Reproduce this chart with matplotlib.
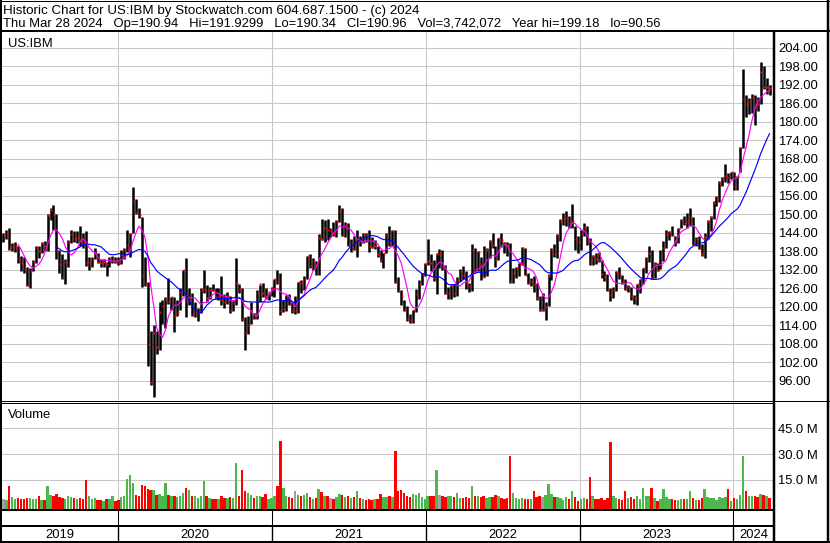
import matplotlib
matplotlib.use('Agg')
import matplotlib.pyplot as plt
import matplotlib.dates as mdates
from matplotlib.lines import Line2D
import numpy as np
import pandas as pd

plt.rcParams['font.family'] = ['Liberation Sans', 'DejaVu Sans']

# ---------------- data (weekly) ----------------
week_start = pd.date_range('2019-04-01', '2024-03-25', freq='W-MON')

high = [
    # 2019 (Apr - Dec)
    144.0, 144.8, 145.4, 140.6, 141.0, 139.7, 136.5, 136.0, 133.0, 132.6,
    135.0, 139.5, 139.6, 141.0, 141.2, 150.0, 152.0, 152.9, 150.0, 138.5,
    137.0, 135.5, 141.5, 145.0, 144.5, 144.5, 146.0, 144.0, 144.5, 136.0,
    136.0, 139.0, 137.5, 135.5, 135.5, 134.5, 136.0, 136.5, 136.0, 136.0,
    # 2020
    138.5, 139.0, 145.0, 144.0, 158.7, 155.0, 152.0, 149.0, 136.0, 128.0,
    112.0, 114.0, 112.0, 121.5, 122.3, 123.0, 129.3, 123.0, 123.0, 122.0,
    126.0, 132.0, 135.9, 126.0, 124.5, 121.5, 119.5, 126.0, 132.0, 127.0,
    126.5, 127.5, 126.0, 126.0, 130.0, 124.0, 124.6, 123.5, 122.0, 135.9,
    127.5, 126.0, 116.5, 117.0, 121.5, 118.0, 125.5, 127.0, 127.6, 126.0,
    124.5, 126.5,
    # 2021
    129.0, 131.9, 131.0, 122.0, 123.7, 124.0, 121.5, 123.5, 128.0, 128.7,
    130.0, 136.5, 137.0, 135.7, 134.9, 143.5, 148.5, 148.0, 148.5, 145.5,
    147.5, 148.0, 152.8, 152.0, 147.5, 147.0, 142.0, 143.0, 145.0, 143.0,
    144.0, 144.0, 144.8, 142.5, 141.5, 139.6, 138.5, 137.5, 143.9, 146.1,
    144.8, 145.0, 129.5, 125.5, 122.0, 120.3, 117.5, 118.9, 125.6, 128.5,
    131.0, 134.0,
    # 2022
    142.0, 137.0, 135.0, 137.3, 138.8, 138.3, 133.5, 126.5, 127.0, 127.5,
    129.5, 132.1, 133.1, 131.5, 127.8, 140.2, 138.9, 138.0, 136.0, 139.8,
    139.1, 141.5, 144.0, 139.5, 142.3, 144.0, 141.0, 141.0, 140.5, 132.5,
    133.0, 134.1, 139.3, 139.0, 131.0, 129.3, 130.0, 127.7, 123.5, 124.5,
    121.5, 130.5, 138.9, 140.2, 143.6, 148.5, 150.5, 151.0, 149.3, 153.2,
    146.0, 143.0,
    # 2023
    145.0, 147.2, 146.0, 142.3, 136.7, 137.4, 137.8, 135.0, 131.5, 130.5,
    126.0, 126.3, 131.5, 133.0, 130.2, 129.0, 127.0, 126.3, 123.9, 127.5,
    129.0, 132.6, 136.0, 139.5, 138.4, 134.5, 134.0, 138.4, 141.3, 144.7,
    144.4, 146.0, 143.0, 145.5, 148.5, 149.3, 150.2, 151.9, 149.0, 142.5,
    142.9, 140.3, 143.8, 148.0, 149.4, 154.2, 155.8, 160.6, 162.0, 166.3,
    163.2, 163.6,
    # 2024 (Jan - Mar)
    163.5, 162.5, 171.6, 196.9, 188.5, 187.6, 188.9, 188.5, 188.0, 199.18,
    198.0, 194.0, 192.0,
]

low = [
    # 2019
    141.0, 142.0, 138.5, 138.0, 137.7, 134.0, 131.5, 131.0, 126.8, 126.1,
    131.5, 134.0, 135.8, 137.5, 138.0, 138.0, 148.0, 145.0, 135.5, 131.0,
    129.0, 127.5, 133.0, 140.5, 141.0, 140.5, 139.5, 139.0, 133.3, 131.8,
    132.7, 135.5, 134.0, 133.0, 133.0, 130.0, 133.0, 134.0, 134.0, 133.5,
    # 2020
    133.9, 135.5, 137.8, 136.0, 144.0, 150.0, 148.8, 126.5, 126.6, 100.8,
    94.7, 90.56, 104.5, 106.0, 114.5, 113.0, 121.0, 118.8, 111.8, 117.0,
    119.0, 123.5, 116.5, 120.5, 117.0, 116.7, 115.5, 118.0, 124.5, 121.5,
    122.5, 125.0, 122.5, 122.2, 120.5, 119.5, 120.7, 117.8, 118.5, 120.5,
    124.5, 115.5, 105.9, 111.0, 114.5, 115.9, 116.0, 121.5, 123.2, 122.5,
    122.3, 123.3,
    # 2021
    123.1, 127.5, 117.4, 118.3, 118.5, 120.5, 118.0, 117.5, 118.0, 124.3,
    125.5, 129.0, 132.5, 132.0, 130.4, 130.4, 141.5, 141.0, 141.5, 142.5,
    142.8, 142.5, 147.5, 143.0, 142.6, 139.5, 137.6, 138.5, 136.2, 139.5,
    140.5, 140.8, 137.8, 139.1, 138.8, 136.2, 134.5, 132.6, 137.5, 139.8,
    139.8, 127.6, 124.9, 120.5, 118.6, 115.5, 114.6, 114.6, 118.3, 122.5,
    126.9, 130.0,
    # 2022
    133.5, 131.5, 128.3, 124.2, 132.5, 131.9, 124.2, 122.5, 122.5, 123.2,
    123.5, 128.2, 128.9, 125.6, 124.9, 125.2, 131.2, 131.5, 128.6, 129.5,
    130.0, 135.8, 139.0, 132.8, 135.0, 139.4, 137.5, 136.5, 127.6, 127.7,
    129.4, 129.8, 133.5, 130.2, 127.2, 126.6, 124.6, 122.0, 118.6, 118.7,
    115.55, 120.3, 128.6, 136.0, 135.9, 141.3, 146.6, 146.2, 145.5, 145.6,
    138.5, 137.5,
    # 2023
    138.5, 142.9, 139.9, 133.6, 133.5, 133.7, 134.5, 129.2, 128.3, 125.0,
    121.7, 122.8, 125.0, 128.9, 127.3, 125.5, 124.6, 122.3, 120.9, 120.55,
    124.5, 127.5, 131.0, 134.5, 129.0, 129.2, 131.6, 132.3, 134.9, 138.9,
    141.7, 142.8, 139.6, 140.5, 145.6, 146.5, 145.4, 146.0, 140.0, 139.6,
    138.6, 136.5, 135.9, 142.0, 144.6, 148.5, 152.5, 153.8, 159.0, 160.5,
    160.0, 161.3,
    # 2024
    157.9, 157.9, 163.5, 171.5, 181.5, 182.5, 182.7, 179.0, 183.5, 185.8,
    190.5, 189.0, 188.6,
]

close = [
    # 2019
    143.3, 144.0, 139.1, 139.4, 139.7, 135.3, 134.0, 132.3, 127.0, 131.5,
    134.6, 138.9, 137.9, 140.6, 139.5, 149.7, 151.4, 150.0, 138.0, 133.8,
    129.6, 134.5, 141.0, 143.7, 141.9, 142.3, 142.0, 141.1, 134.1, 134.5,
    135.5, 137.6, 134.5, 134.3, 134.5, 133.8, 135.5, 135.6, 134.9, 134.3,
    # 2020
    136.7, 138.3, 140.0, 143.7, 154.3, 150.7, 149.8, 130.2, 127.2, 107.9,
    95.5, 111.5, 106.8, 118.3, 120.1, 122.5, 121.9, 123.0, 116.9, 118.4,
    124.9, 132.0, 121.9, 123.0, 117.3, 118.2, 118.4, 125.5, 125.6, 122.9,
    125.4, 125.3, 123.2, 123.3, 122.3, 121.4, 123.3, 118.9, 121.1, 127.8,
    125.9, 116.0, 111.6, 114.0, 117.8, 117.6, 124.4, 127.2, 124.3, 123.3,
    124.7, 125.9,
    # 2021
    129.0, 127.9, 118.6, 119.1, 123.6, 120.8, 118.9, 118.9, 127.9, 127.6,
    128.9, 136.4, 133.2, 134.7, 133.6, 142.4, 141.9, 145.5, 144.7, 144.7,
    143.7, 147.4, 150.9, 143.1, 146.8, 140.0, 140.7, 138.9, 141.3, 141.0,
    143.5, 143.1, 139.6, 139.4, 139.6, 137.0, 135.2, 137.5, 143.3, 140.5,
    144.6, 127.9, 125.1, 123.6, 119.0, 116.1, 115.8, 118.8, 124.1, 127.4,
    130.6, 133.7,
    # 2022
    134.8, 134.2, 129.3, 137.2, 137.2, 132.7, 124.4, 124.5, 126.6, 124.4,
    128.8, 131.4, 130.1, 127.7, 126.6, 138.3, 132.2, 137.7, 133.6, 129.7,
    138.3, 141.2, 139.9, 135.0, 142.1, 141.6, 140.5, 139.9, 128.3, 130.8,
    132.5, 134.0, 139.1, 130.4, 127.7, 128.4, 127.3, 122.7, 118.8, 118.8,
    120.0, 129.9, 138.5, 137.0, 143.2, 147.7, 148.4, 148.7, 147.1, 147.8,
    142.0, 140.9,
    # 2023
    143.7, 145.9, 141.2, 134.4, 136.4, 135.6, 135.0, 130.6, 129.6, 125.5,
    123.7, 125.3, 131.1, 130.5, 128.1, 125.7, 126.4, 123.6, 122.8, 127.3,
    128.9, 132.4, 135.3, 137.5, 129.4, 133.8, 132.0, 133.4, 138.9, 143.5,
    144.2, 143.1, 141.4, 145.3, 148.0, 147.1, 147.4, 148.9, 140.3, 142.0,
    138.9, 137.2, 142.5, 147.9, 149.0, 153.6, 155.2, 160.1, 161.4, 162.2,
    162.1, 163.5,
    # 2024
    159.2, 162.2, 171.5, 187.4, 185.8, 186.3, 187.6, 185.7, 185.6, 196.0,
    191.1, 191.3, 190.96,
]

volume_m = [
    # 2019
    4.0, 3.6, 11.5, 5.0, 4.2, 4.5, 4.0, 3.8, 4.3, 4.8,
    3.9, 4.1, 5.5, 3.2, 3.6, 11.5, 6.5, 5.5, 7.0, 5.2,
    4.6, 4.2, 5.8, 5.0, 4.3, 3.8, 4.5, 3.9, 15.0, 6.0,
    4.2, 4.5, 3.6, 3.4, 3.0, 4.2, 3.8, 6.0, 2.8, 3.5,
    # 2020
    5.2, 6.0, 15.6, 18.0, 13.3, 6.5, 5.5, 12.0, 11.5, 10.0,
    9.2, 9.0, 6.3, 7.0, 6.0, 13.0, 6.5, 5.5, 5.8, 5.0,
    6.0, 7.5, 10.4, 9.2, 6.0, 5.5, 4.5, 6.0, 14.4, 5.5,
    4.5, 4.0, 3.8, 4.2, 5.6, 4.8, 4.3, 5.0, 4.5, 24.9,
    5.5, 20.8, 8.8, 7.5, 6.5, 4.8, 5.5, 5.8, 5.0, 6.6,
    4.0, 4.5,
    # 2021
    5.5, 11.5, 37.8, 10.6, 6.0, 5.0, 4.5, 8.4, 6.5, 5.5,
    6.5, 7.5, 5.0, 4.0, 4.5, 9.5, 8.0, 6.0, 5.5, 4.5,
    4.0, 5.0, 7.0, 6.5, 5.0, 5.5, 4.5, 5.0, 8.5, 4.5,
    4.0, 3.5, 4.2, 3.5, 3.8, 4.0, 7.0, 5.0, 5.0, 5.5,
    5.0, 31.8, 8.5, 9.0, 7.5, 6.0, 5.0, 7.0, 6.5, 7.5,
    5.0, 4.0,
    # 2022
    6.0, 5.5, 6.0, 20.8, 6.5, 5.5, 5.0, 6.0, 5.5, 5.0,
    7.5, 4.5, 4.5, 5.0, 4.5, 11.5, 6.0, 5.5, 5.0, 5.5,
    4.5, 5.0, 5.0, 6.5, 6.0, 4.5, 4.0, 4.5, 29.0, 7.5,
    4.5, 4.0, 4.5, 4.0, 3.8, 4.0, 8.6, 5.0, 5.5, 5.0,
    6.5, 12.7, 7.0, 5.0, 5.0, 4.5, 3.5, 5.0, 4.0, 8.6,
    5.0, 3.0,
    # 2023
    4.0, 4.5, 4.0, 16.6, 5.5, 4.0, 3.8, 4.5, 3.5, 4.5,
    37.2, 5.5, 4.5, 4.0, 3.5, 8.6, 4.5, 5.0, 4.0, 6.0,
    4.0, 10.4, 5.5, 6.0, 10.2, 4.5, 3.0, 4.0, 9.8, 5.0,
    4.0, 3.8, 3.5, 3.5, 4.0, 3.8, 4.2, 8.8, 4.5, 3.5,
    3.5, 4.5, 10.0, 5.0, 4.5, 4.8, 3.5, 5.0, 4.5, 5.0,
    9.8, 3.0,
    # 2024
    4.5, 4.0, 6.5, 28.9, 8.6, 5.5, 5.5, 6.0, 5.0, 7.0,
    6.5, 5.5, 4.5,
]

price_ticks = [96, 102, 108, 114, 120, 126, 132, 138, 144, 150, 156, 162,
               168, 174, 180, 186, 192, 198, 204]
volume_ticks = [15, 30, 45]
year_labels = [2019, 2020, 2021, 2022, 2023, 2024]

header_1 = "Historic Chart for US:IBM by Stockwatch.com 604.687.1500 - (c) 2024"
header_2 = ("Thu Mar 28 2024   Op=190.94   Hi=191.9299   Lo=190.34   Cl=190.96   "
            "Vol=3,742,072   Year hi=199.18   lo=90.56")

# ---------------- layout helpers ----------------
W, H = 830, 543
fig = plt.figure(figsize=(W / 100, H / 100), dpi=100)
fig.patch.set_facecolor('white')


def rect(l, t, r, b):
    return [l / W, (H - b) / H, (r - l) / W, (b - t) / H]


def fline(x0, y0, x1, y1, lw_px, color='black'):
    fig.add_artist(Line2D([x0 / W, x1 / W], [1 - y0 / H, 1 - y1 / H],
                          transform=fig.transFigure, color=color,
                          lw=lw_px * 0.72, solid_capstyle='butt'))


FS = 9.4
GRID = '#c8c8c8'

centers = mdates.date2num(week_start + pd.Timedelta(days=2))
jan2020 = mdates.date2num(pd.Timestamp('2020-01-01'))
ppd = 615.0 / 1461.0          # pixels per day
xmin = jan2020 - (118.3 - 1) / ppd
xmax = jan2020 + (774 - 118.3) / ppd
year_bounds = [mdates.date2num(pd.Timestamp(f'{y}-01-01')) for y in range(2020, 2025)]

close_s = pd.Series(close)
ma_short = close_s.rolling(6).mean()
ma_long = close_s.rolling(19).mean()

# ---------------- price panel ----------------
ax_p = fig.add_axes(rect(1, 31, 774, 400))
ax_p.set_xlim(xmin, xmax)
ax_p.set_ylim(96 - 19.3 / 3.085, 204 + 16.5 / 3.085)
ax_p.set_yticks(price_ticks)
ax_p.set_yticklabels([f'{v:.2f}' for v in price_ticks])
ax_p.yaxis.tick_right()
ax_p.tick_params(axis='y', length=0, pad=3, labelsize=FS, colors='black')
ax_p.tick_params(axis='x', length=0, labelbottom=False)
ax_p.grid(axis='y', color=GRID, lw=0.75)
for xb in year_bounds:
    ax_p.axvline(xb, color=GRID, lw=0.75, zorder=0.5)
for s in ax_p.spines.values():
    s.set_visible(False)
ax_p.set_axisbelow(True)

ax_p.vlines(centers, low, high, color='black', lw=1.8, zorder=2)
ax_p.plot(centers + 1.8, close, 's', ms=1.4, mew=0, color='red', zorder=3)
ax_p.plot(centers, ma_short, color='#ff00ff', lw=0.85, zorder=4)
ax_p.plot(centers, ma_long, color='#0000ff', lw=0.85, zorder=4)

# ---------------- volume panel ----------------
vmin = 15 - 29 / 1.7233
vmax = 45 + 26.3 / 1.7233
ax_v = fig.add_axes(rect(1, 402, 774, 509))
ax_v.set_xlim(xmin, xmax)
ax_v.set_ylim(vmin, vmax)
diffs = np.diff(np.array(close), prepend=close[0])
vcolors = ['#4cb84c' if d > 0 else ('#ff0000' if d < 0 else '#a0a0a0') for d in diffs]
vol = np.array(volume_m)
ax_v.bar(centers, vol - vmin, bottom=vmin, width=5.8, color=vcolors, lw=0, zorder=2)
ax_v.set_yticks(volume_ticks)
ax_v.set_yticklabels([f'{v:.1f} M' for v in volume_ticks])
ax_v.yaxis.tick_right()
ax_v.tick_params(axis='y', length=0, pad=3, labelsize=FS, colors='black')
ax_v.tick_params(axis='x', length=0, labelbottom=False)
ax_v.grid(axis='y', color=GRID, lw=0.75)
for xb in year_bounds:
    ax_v.axvline(xb, color=GRID, lw=0.75, zorder=0.5)
for s in ax_v.spines.values():
    s.set_visible(False)
ax_v.set_axisbelow(True)

# ---------------- date strips ----------------
ax_s = fig.add_axes(rect(1, 509, 774, 526))
ax_s.set_xlim(xmin, xmax)
ax_s.axis('off')
for xb in year_bounds:
    ax_s.axvline(xb, color='black', lw=0.75)

ax_y = fig.add_axes(rect(1, 526, 774, 541))
ax_y.set_xlim(xmin, xmax)
ax_y.set_ylim(0, 1)
ax_y.axis('off')
for xb in year_bounds:
    ax_y.axvline(xb, color='black', lw=1.0)
for yr in year_labels:
    a = max(mdates.date2num(pd.Timestamp(f'{yr}-01-01')), xmin)
    b = min(mdates.date2num(pd.Timestamp(f'{yr + 1}-01-01')), xmax)
    ax_y.text((a + b) / 2, 0.4, str(yr), ha='center', va='center', fontsize=FS)

# ---------------- frame and texts ----------------
fline(0, 0.5, 830, 0.5, 1)
fline(0, 31, 830, 31, 2)
fline(1, 0, 1, 543, 2)
fline(828, 0, 828, 543, 2.5)
fline(774, 31, 774, 543, 2.5)
fline(0, 400.5, 830, 400.5, 1)
fline(0, 402.5, 774, 402.5, 1)
fline(0, 509.5, 774, 509.5, 2)
fline(0, 526, 774, 526, 2)
fline(0, 541.5, 830, 541.5, 2)

fig.text(2.5 / W, 1 - 14 / H, header_1, fontsize=9.65, va='baseline', ha='left')
fig.text(2.5 / W, 1 - 27 / H, header_2, fontsize=FS, va='baseline', ha='left')
fig.text(8 / W, 1 - 46.5 / H, 'US:IBM', fontsize=FS, va='baseline', ha='left')
fig.text(8 / W, 1 - 418 / H, 'Volume', fontsize=FS, va='baseline', ha='left')

fig.savefig('out.png', dpi=100, facecolor='white')
